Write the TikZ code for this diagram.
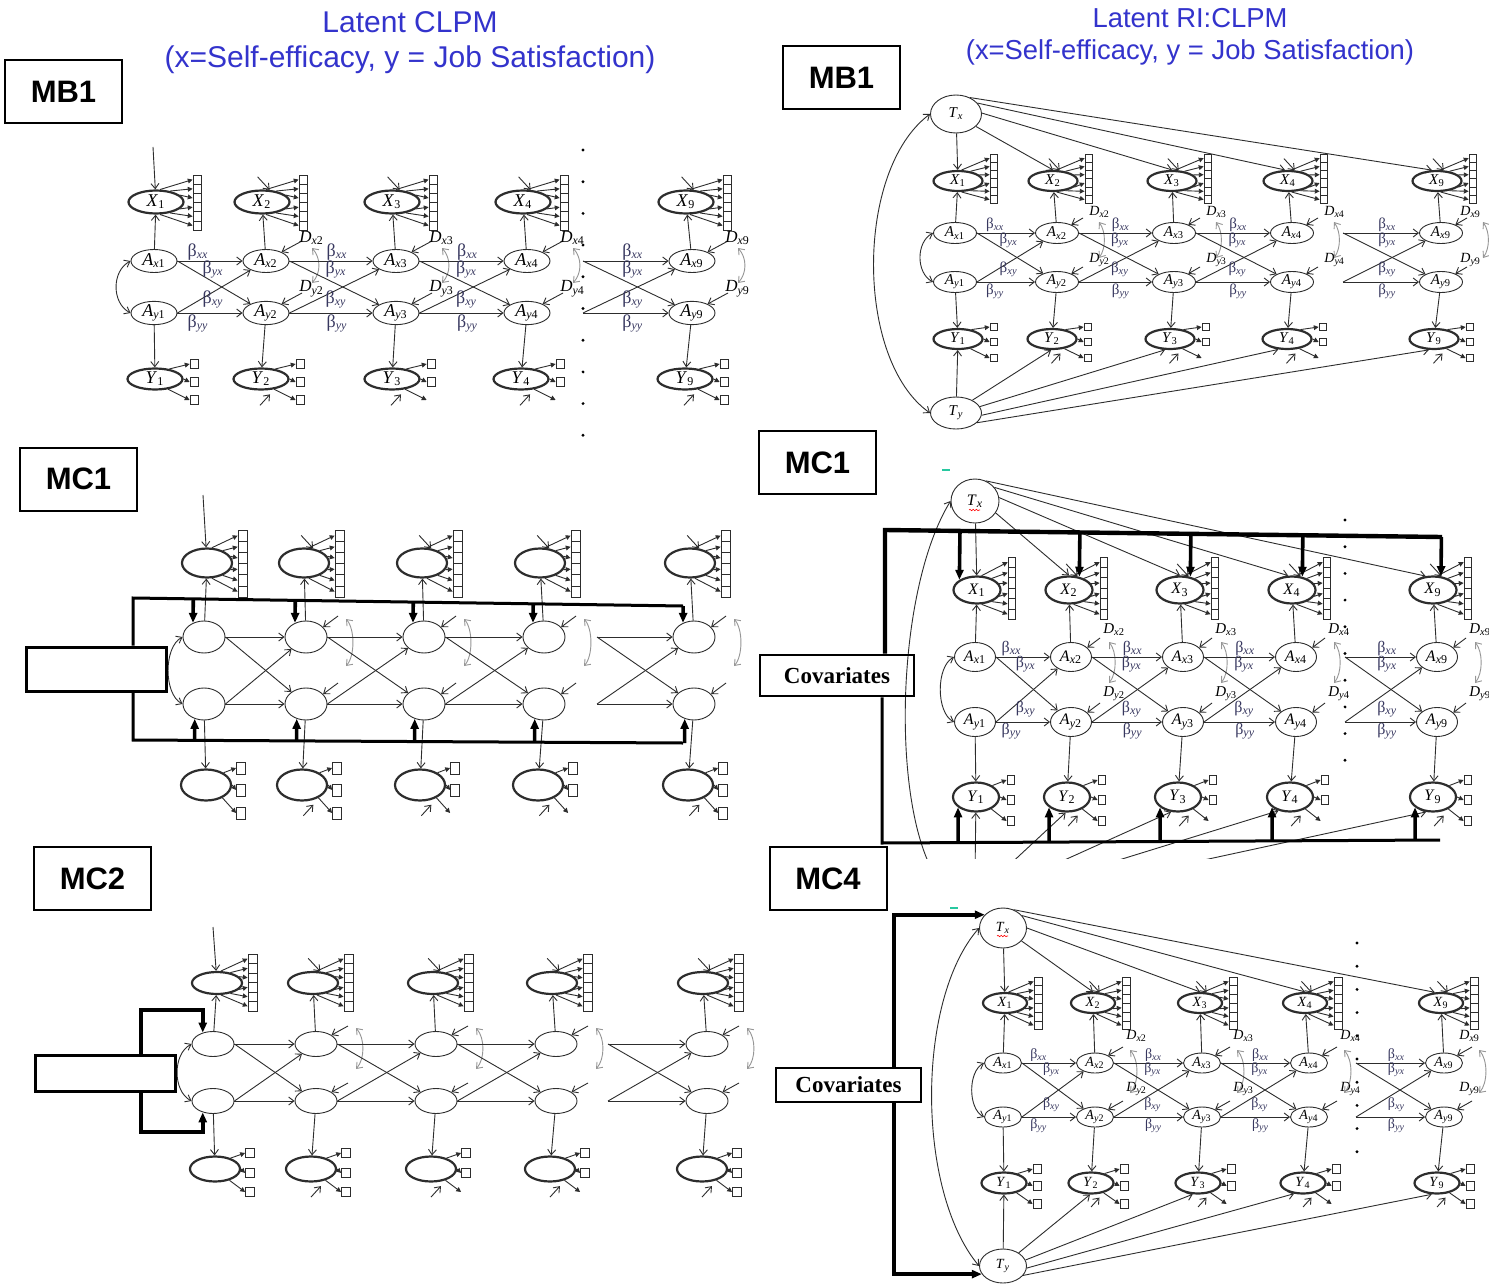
\documentclass[tikz,border=0pt]{standalone}
\usepackage{fontspec}
\setmainfont{Liberation Serif}
\newfontfamily\sansf{Liberation Sans}
\usetikzlibrary{arrows.meta,calc,shapes.geometric,decorations.pathmorphing}
\definecolor{ttl}{RGB}{51,51,204}
\definecolor{bet}{RGB}{55,55,95}
\definecolor{ln}{RGB}{45,45,45}
\definecolor{gln}{RGB}{150,150,150}
\definecolor{tl}{RGB}{40,200,160}
\newif\iflab
\tikzset{
 ell/.style={ellipse,inner sep=0pt,draw=ln},
 xnode/.style={ell,line width=1.1pt,minimum width=\XW pt,minimum height=\XH pt,font=\nf},
 anode/.style={ell,line width=0.45pt,minimum width=\AW pt,minimum height=\AH pt,font=\nf},
 ynode/.style={ell,line width=1.1pt,minimum width=\YW pt,minimum height=\YH pt,font=\nf},
 tnode/.style={ell,line width=0.45pt,font=\nf},
 xbox/.style={draw=ln,line width=0.4pt,inner sep=0pt,minimum width=\bw*0.5pt,minimum height=\bhx*0.5pt},
 ybox/.style={draw=ln,line width=0.4pt,inner sep=0pt,minimum width=\bw*0.5pt,minimum height=\bhy*0.5pt},
 arr/.style={draw=ln,line width=0.45pt,-{Straight Barb[length=2.6pt,width=4pt]}},
 farr/.style={draw=ln,line width=0.45pt,-{Triangle[length=2.4pt,width=2.4pt]}},
 darr/.style={draw=ln,line width=0.45pt,{Straight Barb[length=2.6pt,width=4pt]}-{Straight Barb[length=2.6pt,width=4pt]}},
 garr/.style={draw=gln,line width=0.45pt,{Straight Barb[length=2.6pt,width=4pt]}-{Straight Barb[length=2.6pt,width=4pt]}},
 blab/.style={font=\blf,text=bet,inner sep=0.5pt},
 dlab/.style={font=\dlf,inner sep=0.5pt,anchor=south west},
 bold/.style={draw=black,line width=1.8pt,-{Triangle[length=5pt,width=4pt]}},
 brk/.style={draw=black,line width=1.5pt},
 mbox/.style={draw=black,line width=1pt,minimum width=58.5pt,minimum height=31.5pt,font=\sansf\bfseries\fontsize{15.5}{16}\selectfont},
 covbox/.style={draw=black,line width=1.3pt,inner sep=0pt,font=\bfseries\fontsize{11.5}{12}\selectfont},
 dot/.style={circle,fill=black,inner sep=0pt,minimum size=1.6pt},
}
\def\nf{\fontsize{9}{10}\selectfont}\def\blf{\fontsize{8}{9}\selectfont}\def\dlf{\fontsize{7.5}{8}\selectfont}
\def\dnx{0}

\newcommand{\drawpanel}[1]{%
\foreach \i/\xX/\xA/\xY in \cols {%
  \node[xnode] (#1X\i) at (\xX,\yX) {\iflab\textit{X}\textsubscript{\i}\fi};
  \node[anode] (#1Ax\i) at (\xA,\yAx) {\iflab\textit{A}\textsubscript{\textit{x}\i}\fi};
  \node[anode] (#1Ay\i) at (\xA,\yAy) {\iflab\textit{A}\textsubscript{\textit{y}\i}\fi};
  \node[ynode] (#1Y\i) at (\xY,\yY) {\iflab\textit{Y}\textsubscript{\i}\fi};
  \draw[arr] (#1Ax\i) -- (#1X\i);
  \draw[arr] (#1Ay\i) -- (#1Y\i);
  \foreach \k/\ang in {1/72,2/38,3/16,4/-16,5/-38,6/-72} {%
    \node[xbox] (#1Xb\i\k) at ({\xX+\bxo},{\yX+\btop+(\k-0.5)*\bhx}) {};
    \draw[farr] (#1X\i.\ang) -- (#1Xb\i\k.west);
  }
  \foreach \k/\dy/\ang in {1/\ya/35,2/\yb/0,3/\yc/-38} {%
    \pgfmathtruncatemacro\nob{and(\k==3,or(\i==3,\i==4))}%
    \ifnum\nob=1
      \node[ybox,draw=none] (#1Yb\i\k) at ({\xY+\byo},{\yY+\dy}) {};
    \else
      \node[ybox] (#1Yb\i\k) at ({\xY+\byo},{\yY+\dy}) {};
    \fi
    \draw[farr] (#1Y\i.\ang) -- (#1Yb\i\k.west);
  }
  \ifnum\i>1
    \ifnum\i=9 \edef\dsh{\dnx}\else\def\dsh{0}\fi
    \coordinate (#1DxS\i) at ({\xA+\dax},{\yAx+\day});
    \coordinate (#1DyS\i) at ({\xA+\dax},{\yAy+\day});
    \draw[arr] (#1DxS\i) -- (#1Ax\i.30);
    \draw[arr] (#1DyS\i) -- (#1Ay\i.30);
    \iflab
      \node[dlab] (#1Dx\i) at ($(#1DxS\i)+({\dlx+\dsh},\dly)$) {\textit{D}\textsubscript{\textit{x}\i}};
      \node[dlab] (#1Dy\i) at ($(#1DyS\i)+({\dlx+\dsh},\dly)$) {\textit{D}\textsubscript{\textit{y}\i}};
    \fi
    \draw[garr] ({\xA+\cvx},{\yAx+\cva}) .. controls ({\xA+\cvx+\bul},{\yAx+\cva+10}) and ({\xA+\cvx+\bul},{\yAy+\cvc-10}) .. ({\xA+\cvx},{\yAy+\cvc});
    \draw[arr] ($(#1X\i.58)+({-12*\s},{-13*\s})$) -- (#1X\i.58);
    \draw[arr] ($(#1Y\i.-62)+({-7*\s},{15*\s})$) -- ($(#1Y\i.-62)+({3*\s},{4*\s})$);
  \fi
}%
\foreach \a/\b/\oa/\ob in {1/2/-12/3,2/3/6/5,3/4/6/5} {%
  \draw[arr] (#1Ax\a.east) -- (#1Ax\b.west);
  \draw[arr] (#1Ay\a.east) -- (#1Ay\b.west);
  \draw[arr] (#1Ax\a.east) -- (#1Ay\b);
  \draw[arr] (#1Ay\a.east) -- (#1Ax\b);
  \iflab
   \node[blab] (#1bxx\b) at ($(#1Ax\a.east)!0.5!(#1Ax\b.west)+({\oa*\s},{-9*\s})$) {β\textsubscript{\textit{xx}}};
   \node[blab] (#1byx\b) at ($(#1Ax\a.east)!0.5!(#1Ax\b.west)+({\ob*\s},{8*\s})$) {β\textsubscript{\textit{yx}}};
   \node[blab] (#1bxy\b) at ($(#1Ay\a.east)!0.5!(#1Ay\b.west)+({\ob*\s},{-14*\s})$) {β\textsubscript{\textit{xy}}};
   \node[blab] (#1byy\b) at ($(#1Ay\a.east)!0.5!(#1Ay\b.west)+({\oa*\s},{10*\s})$) {β\textsubscript{\textit{yy}}};
  \fi
}%
\coordinate (#1Sx) at (\sx,\yAx);
\coordinate (#1Sy) at (\sx,\yAy);
\draw[arr] (#1Sx) -- (#1Ax9.west);
\draw[arr] (#1Sy) -- (#1Ay9.west);
\draw[arr] (#1Sx) -- (#1Ay9);
\draw[arr] (#1Sy) -- (#1Ax9);
\iflab
 \node[blab] (#1bxx9) at ($(#1Sx)!0.5!(#1Ax9.west)+({7*\s},{-9*\s})$) {β\textsubscript{\textit{xx}}};
 \node[blab] (#1byx9) at ($(#1Sx)!0.5!(#1Ax9.west)+({7*\s},{8*\s})$) {β\textsubscript{\textit{yx}}};
 \node[blab] (#1bxy9) at ($(#1Sy)!0.5!(#1Ay9.west)+({7*\s},{-14*\s})$) {β\textsubscript{\textit{xy}}};
 \node[blab] (#1byy9) at ($(#1Sy)!0.5!(#1Ay9.west)+({7*\s},{10*\s})$) {β\textsubscript{\textit{yy}}};
\fi
\draw[darr] (#1Ax1.west) .. controls ($(#1Ax1.west)+({-19*\s},{10*\s})$) and ($(#1Ay1.west)+({-19*\s},{-10*\s})$) .. (#1Ay1.west);
}

\begin{document}
\begin{tikzpicture}[x=0.5pt,y=-0.5pt]
\useasboundingbox (0,0) rectangle (1489,1284);
\fill[white] (0,0) rectangle (1489,1284);

% ---------- titles ----------
\node[text=ttl,font=\sansf\fontsize{15}{16}\selectfont] (t1a) at (410,22) {Latent CLPM};
\node[text=ttl,font=\sansf\fontsize{15}{16}\selectfont] (t1b) at (410,60) {(x=Self-efficacy, y = Job Satisfaction)};
\node[text=ttl,font=\sansf\fontsize{13.7}{15}\selectfont] (t2a) at (1190,18) {Latent RI:CLPM};
\node[text=ttl,font=\sansf\fontsize{13.7}{15}\selectfont] (t2b) at (1190,52) {(x=Self-efficacy, y = Job Satisfaction)};

\node[mbox] (lab1) at (63.5,91.5) {MB1};
\node[mbox] (lab2) at (78.5,479) {MC1};
\node[mbox] (lab3) at (92.5,878.5) {MC2};
\node[mbox] (lab4) at (841.5,78) {MB1};
\node[mbox] (lab5) at (817.5,462.5) {MC1};
\node[mbox] (lab6) at (828,878.5) {MC4};

% ---------- panel a : left MB1 ----------
\begin{scope}
\labtrue
\def\nf{\fontsize{9}{10}\selectfont}\def\blf{\fontsize{9}{10}\selectfont}\def\dlf{\fontsize{8.5}{9}\selectfont}
\def\XW{27.5}\def\XH{11.5}\def\AW{23}\def\AH{11.5}\def\YW{27.5}\def\YH{10.5}
\def\yX{202}\def\yAx{261}\def\yAy{313}\def\yY{379}
\def\cols{1/156/154/155,2/262/266/261,3/392/396/392,4/523/527/521,9/686/692/685}
\def\s{1}\def\sx{583}
\def\bw{8}\def\bhx{9.2}\def\bxo{41}\def\btop{-27}
\def\bhy{9}\def\byo{39}\def\ya{-15}\def\yb{3}\def\yc{21}
\def\dax{36}\def\day{-20}\def\dlx{-4}\def\dly{5}
\def\cvx{46}\def\cva{-13}\def\cvc{-30}\def\bul{9}
\drawpanel{a}
\coordinate (aE1) at (153,147);
\draw[arr] (aE1) -- (aX1);
\foreach \j in {0,...,9} \node[dot] (adot\j) at (583,{150+31.7*\j}) {};
\end{scope}

% ---------- panel b : left MC1 ----------
\begin{scope}
\labfalse
\def\XW{25}\def\XH{14.5}\def\AW{21}\def\AH{16}\def\YW{25}\def\YH{15.5}
\def\yX{563}\def\yAx{637}\def\yAy{704}\def\yY{785}
\def\cols{1/207/204/206,2/304/306/302,3/422/424/420,4/540/544/538,9/690/694/688}
\def\s{1}\def\sx{597}
\def\bw{9}\def\bhx{11.2}\def\bxo{35.5}\def\btop{-33}
\def\bhy{12}\def\byo{35}\def\ya{-17}\def\yb{5}\def\yc{28}
\def\dax{32}\def\day{-21}\def\dlx{0}\def\dly{0}
\def\cvx{40}\def\cva{-18}\def\cvc{-38}\def\bul{9}
\drawpanel{b}
\coordinate (bE1) at (203,495);
\draw[arr] (bE1) -- (bX1);
\node[draw=black,line width=1.5pt,minimum width=70pt,minimum height=22pt,inner sep=0pt] (bCov) at (96,669) {};
\coordinate (bTL) at (133,598); \coordinate (bTR) at (683,606);
\coordinate (bBL) at (133,740); \coordinate (bBR) at (683,743);
\draw[brk] (bCov.north -| bTL) -- (bTL) -- (bTR);
\draw[brk] (bCov.south -| bBL) -- (bBL) -- (bBR);
\foreach \i in {1,2,3,4,9} {
  \draw[bold] ($(bTL)!(bAx\i.128)!(bTR)$) -- (bAx\i.128);
  \draw[bold] ($(bBL)!(bAy\i.-122)!(bBR)$) -- (bAy\i.-122);
}
\end{scope}

% ---------- panel c : left MC2 ----------
\begin{scope}
\labfalse
\def\XW{25}\def\XH{11}\def\AW{21}\def\AH{12.5}\def\YW{25}\def\YH{12.5}
\def\yX{983}\def\yAx{1044}\def\yAy{1101}\def\yY{1169}
\def\cols{1/217/213/215,2/313/316/311,3/433/436/431,4/552/556/550,9/703/707/702}
\def\s{1}\def\sx{608}
\def\bw{9}\def\bhx{9.5}\def\bxo{35.5}\def\btop{-29}
\def\bhy{9}\def\byo{35}\def\ya{-16}\def\yb{4}\def\yc{23}
\def\dax{32}\def\day{-18}\def\dlx{0}\def\dly{0}
\def\cvx{40}\def\cva{-16}\def\cvc{-32}\def\bul{9}
\drawpanel{c}
\coordinate (cE1) at (213,927);
\draw[arr] (cE1) -- (cX1);
\node[draw=black,line width=1.5pt,minimum width=70pt,minimum height=18pt,inner sep=0pt] (cCov) at (105,1073) {};
\draw[bold] (cCov.north -| 141,0) -- (141,1010) -| (cAx1.132);
\draw[bold] (cCov.south -| 141,0) -- (141,1132) -| (cAy1.-132);
\end{scope}

% ---------- panel d : right MB1 ----------
\begin{scope}
\labtrue
\def\nf{\fontsize{7.5}{8}\selectfont}\def\blf{\fontsize{7.5}{8}\selectfont}\def\dlf{\fontsize{7}{8}\selectfont}
\def\XW{24.5}\def\XH{10}\def\AW{21.5}\def\AH{10.5}\def\YW{24.5}\def\YH{10}
\def\yX{181}\def\yAx{233}\def\yAy{282}\def\yY{339}
\def\cols{1/958/955/958,2/1053/1057/1052,3/1172/1174/1170,4/1288/1292/1287,9/1437/1441/1434}
\def\s{0.9}\def\sx{1343}
\def\bw{7}\def\bhx{8.3}\def\bxo{35.5}\def\btop{-27}
\def\bhy{7.5}\def\byo{35.5}\def\ya{-12}\def\yb{3}\def\yc{19}
\def\dax{26}\def\day{-15}\def\dlx{5}\def\dly{1}\def\dnx{-13}
\def\cvx{42}\def\cva{-11}\def\cvc{-24}\def\bul{7}
\drawpanel{d}
\node[tnode,minimum width=25.5pt,minimum height=19pt] (dTx) at (956,114) {\textit{T}\textsubscript{\textit{x}}};
\node[tnode,minimum width=25.5pt,minimum height=16pt] (dTy) at (956,413) {\textit{T}\textsubscript{\textit{y}}};
\draw[arr] (dTx) -- (dX1);
\draw[arr] (dTx.-32) -- (dX2.north);
\draw[arr] (dTx.2) -- (dX3.north);
\draw[arr] (dTx.27) -- (dX4.105);
\draw[arr] (dTx.50) -- (dX9.115);
\draw[arr] (dTy) -- (dY1);
\draw[arr] (dTy.38) -- (dY2.-95);
\draw[arr] (dTy.15) -- (dY3.-115);
\draw[arr] (dTy.-5) -- (dY4.-130);
\draw[arr] (dTy.-25) -- (dY9.-115);
\draw[darr] (dTx.west) .. controls (855,170) and (855,360) .. (dTy.west);
\end{scope}

% ---------- panel e : right MC1 ----------
\begin{scope}
\labtrue
\def\nf{\fontsize{8}{9}\selectfont}\def\blf{\fontsize{8}{9}\selectfont}\def\dlf{\fontsize{7.5}{8}\selectfont}
\def\XW{23.5}\def\XH{13.5}\def\AW{20.5}\def\AH{14.5}\def\YW{23}\def\YH{14.5}
\def\yX{590}\def\yAx{657}\def\yAy{722}\def\yY{797}
\def\cols{1/977/975/976,2/1069/1071/1067,3/1180/1183/1178,4/1292/1296/1290,9/1433/1437/1433}
\def\s{0.95}\def\sx{1345}
\def\bw{7}\def\bhx{10.4}\def\bxo{34.5}\def\btop{-33}
\def\bhy{9.5}\def\byo{34.5}\def\ya{-17}\def\yb{3}\def\yc{24}
\def\dax{29}\def\day{-19}\def\dlx{2}\def\dly{-1}\def\dnx{0}
\def\cvx{38}\def\cva{-15}\def\cvc{-39}\def\bul{8}
\drawpanel{e}
\node[tnode,minimum width=24pt,minimum height=22pt] (eTx) at (975,501) {\textit{T}\textsubscript{\textit{x}}};
\draw[red,line width=0.3pt,decorate,decoration={snake,amplitude=0.35pt,segment length=1.6pt}] ($(eTx.center)+(-6,9)$) -- ++(11,0);
\draw[arr] (eTx) -- (eX1);
\draw[arr] (eTx.-30) -- (eX2.north);
\draw[arr] (eTx.8) -- (eX3.north);
\draw[arr] (eTx.35) -- (eX4.105);
\draw[arr] (eTx.62) -- (eX9.118);
\begin{scope}
\clip (850,470) rectangle (1489,858);
\coordinate (eT0) at (975,875);
\coordinate (eT2) at (991,882);
\coordinate (eT3) at (998,890);
\coordinate (eT4) at (999,897);
\coordinate (eT9) at (996,905);
\coordinate (eTw) at (952,895);
\draw[arr] (eT0) -- (eY1);
\draw[arr] (eT2) -- (eY2.-95);
\draw[arr] (eT3) -- (eY3.-115);
\draw[arr] (eT4) -- (eY4.-130);
\draw[arr] (eT9) -- (eY9.-115);
\draw[arr] (eTw) .. controls (890,850) and (890,600) .. (eTx.west);
\end{scope}
\node[covbox,minimum width=77pt,minimum height=20.5pt] (eCov) at (837,675.5) {Covariates};
\coordinate (eTL) at (885,530); \coordinate (eTR) at (1442,537);
\coordinate (eBL) at (882,843); \coordinate (eBR) at (1440,840);
\draw[brk,line width=2.2pt] (eCov.north -| eTL) -- (eTL) -- (eTR);
\draw[brk] (eCov.south -| eBL) -- (eBL) -- (eBR);
\foreach \i/\ang in {1/150,2/52,3/52,4/52,9/60} \draw[bold] ($(eTL)!(eX\i.\ang)!(eTR)$) -- (eX\i.\ang);
\foreach \i in {1,2,3,4,9} \draw[bold] ($(eBL)!(eY\i.-150)!(eBR)$) -- (eY\i.-150);
\foreach \j in {0,...,9} \node[dot] (edot\j) at (1345,{520+26.7*\j}) {};
\draw[tl,line width=0.8pt] (942,470) -- (950,470);
\end{scope}

% ---------- panel f : right MC4 ----------
\begin{scope}
\labtrue
\def\nf{\fontsize{7}{8}\selectfont}\def\blf{\fontsize{7}{8}\selectfont}\def\dlf{\fontsize{7}{8}\selectfont}
\def\XW{22}\def\XH{10}\def\AW{18.5}\def\AH{10}\def\YW{22.5}\def\YH{10.5}
\def\yX{1003}\def\yAx{1063}\def\yAy{1117}\def\yY{1183}
\def\cols{1/1005/1003/1004,2/1093/1095/1091,3/1200/1202/1198,4/1305/1309/1303,9/1441/1444/1437}
\def\s{0.85}\def\sx{1356}
\def\bw{8}\def\bhx{8.8}\def\bxo{33}\def\btop{-26}
\def\bhy{8.5}\def\byo{33}\def\ya{-14}\def\yb{3}\def\yc{21}
\def\dax{28}\def\day{-16}\def\dlx{2}\def\dly{-4}\def\dnx{-16}
\def\cvx{35}\def\cva{-13}\def\cvc{-24}\def\bul{9}
\drawpanel{f}
\node[tnode,minimum width=23.5pt,minimum height=20pt] (fTx) at (1003,928) {\textit{T}\textsubscript{\textit{x}}};
\node[tnode,minimum width=23.5pt,minimum height=17pt] (fTy) at (1003,1266) {\textit{T}\textsubscript{\textit{y}}};
\draw[red,line width=0.3pt,decorate,decoration={snake,amplitude=0.35pt,segment length=1.6pt}] ($(fTx.center)+(-6,8)$) -- ++(11,0);
\draw[arr] (fTx) -- (fX1);
\draw[arr] (fTx.-35) -- (fX2.north);
\draw[arr] (fTx.0) -- (fX3.north);
\draw[arr] (fTx.33) -- (fX4.north);
\draw[arr] (fTx.60) -- (fX9.120);
\draw[arr] (fTy) -- (fY1);
\draw[arr] (fTy.40) -- (fY2.-95);
\draw[arr] (fTy.15) -- (fY3.-115);
\draw[arr] (fTy.-5) -- (fY4.-130);
\draw[arr] (fTy.-25) -- (fY9.-115);
\draw[darr] (fTx.west) .. controls (916,1000) and (916,1190) .. (fTy.west);
\node[covbox,minimum width=72.5pt,minimum height=17pt] (fCov) at (848.5,1085) {Covariates};
\draw[bold] (fCov.north -| 894,0) |- (fTx.144);
\draw[bold] (fCov.south -| 894,0) |- (fTy.-159);
\foreach \j in {0,...,9} \node[dot] (fdot\j) at (1357,{943+23.2*\j}) {};
\draw[tl,line width=0.8pt] (950,908) -- (958,908);
\end{scope}
\end{tikzpicture}
\end{document}
